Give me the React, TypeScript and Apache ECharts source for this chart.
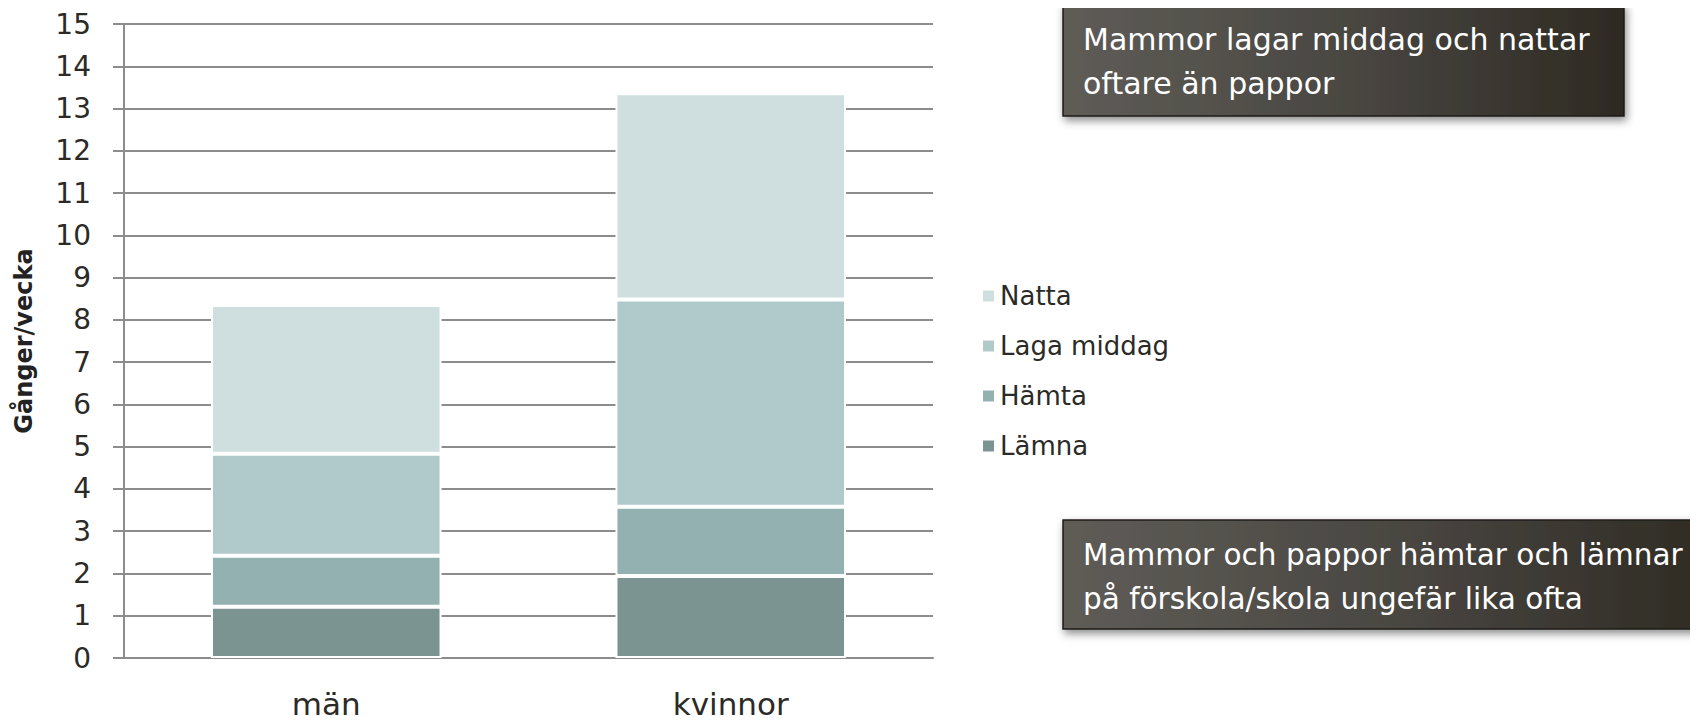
import React, { useEffect, useRef } from "react";
import * as echarts from "echarts";

const categories = ["män", "kvinnor"];
const lamna = [1.21, 1.94];
const hamta = [1.21, 1.64];
const lagaMiddag = [2.41, 4.9];
const natta = [3.52, 4.88];
const yTicks = { min: 0, max: 15, interval: 1 };
const seriesNames = ["Lämna", "Hämta", "Laga middag", "Natta"];
const seriesColors = ["#7b9492", "#93b1b0", "#b0c9ca", "#cfdedf"];
const callout1 = ["Mammor lagar middag och nattar", "oftare än pappor"];
const callout2 = ["Mammor och pappor hämtar och lämnar", "på förskola/skola ungefär lika ofta"];

const FONT = "'DejaVu Sans', sans-serif";

export default function App() {
  const ref = useRef<HTMLDivElement>(null);
  useEffect(() => {
    if (!ref.current) return;
    const chart = echarts.init(ref.current, null, { renderer: "svg" });
    const values = [lamna, hamta, lagaMiddag, natta];
    const boxFill = new echarts.graphic.LinearGradient(0, 0, 1, 0, [
      { offset: 0, color: "#5f5c57" },
      { offset: 0.5, color: "#4a4742" },
      { offset: 1, color: "#2e2a23" },
    ]);
    const mkBox = (x: number, y: number, w: number, h: number, lines: string[], fs: number) => ({
      type: "group",
      x,
      y,
      children: [
        {
          type: "rect",
          shape: { x: 0, y: 0, width: w, height: h },
          style: {
            fill: boxFill,
            stroke: "#1f1d1a",
            lineWidth: 1.5,
            shadowBlur: 8,
            shadowOffsetX: 2,
            shadowOffsetY: 4,
            shadowColor: "rgba(0,0,0,0.45)",
          },
        },
        {
          type: "text",
          x: 20,
          y: 13,
          style: {
            text: lines.join("\n"),
            fill: "#ffffff",
            font: `${fs}px ${FONT}`,
            lineHeight: 44,
          },
        },
      ],
    });
    chart.setOption({
      animation: false,
      textStyle: { fontFamily: FONT },
      grid: { left: 124, right: 765, top: 24, bottom: 66, containLabel: false },
      legend: {
        data: [...seriesNames].reverse(),
        orient: "vertical",
        left: 976,
        top: 278,
        itemWidth: 13,
        itemHeight: 13,
        itemGap: 24,
        icon: "rect",
        textStyle: { fontSize: 26, color: "#2b2a26", fontFamily: FONT },
      },
      xAxis: {
        type: "category",
        data: categories,
        axisLine: { show: true, lineStyle: { color: "#8c8c8c", width: 2 } },
        axisTick: { show: false },
        axisLabel: { fontSize: 31, color: "#2b2a26", margin: 30, fontFamily: FONT },
      },
      yAxis: {
        type: "value",
        min: yTicks.min,
        max: yTicks.max,
        interval: yTicks.interval,
        name: "Gånger/vecka",
        nameLocation: "middle",
        nameGap: 88,
        nameTextStyle: { fontSize: 24, fontWeight: "bold", color: "#222", fontFamily: FONT },
        axisLine: { show: true, lineStyle: { color: "#8c8c8c", width: 2 } },
        axisTick: { show: true, length: 11, lineStyle: { color: "#8c8c8c", width: 2 } },
        axisLabel: { fontSize: 28, color: "#2b2a26", margin: 33, fontFamily: FONT },
        splitLine: { show: true, lineStyle: { color: "#8c8c8c", width: 2 } },
      },
      series: seriesNames.map((name, i) => ({
        name,
        type: "bar",
        stack: "total",
        data: values[i],
        barWidth: "57%",
        itemStyle: { color: seriesColors[i], borderColor: "#ffffff", borderWidth: 2 },
      })),
      graphic: [
        mkBox(1063, 4, 561, 112, callout1, 30),
        mkBox(1063, 520, 660, 109, callout2, 29.5),
      ],
    });
    return () => chart.dispose();
  }, []);
  return <div ref={ref} style={{ width: 1698, height: 724, margin: -8 }} />;
}
